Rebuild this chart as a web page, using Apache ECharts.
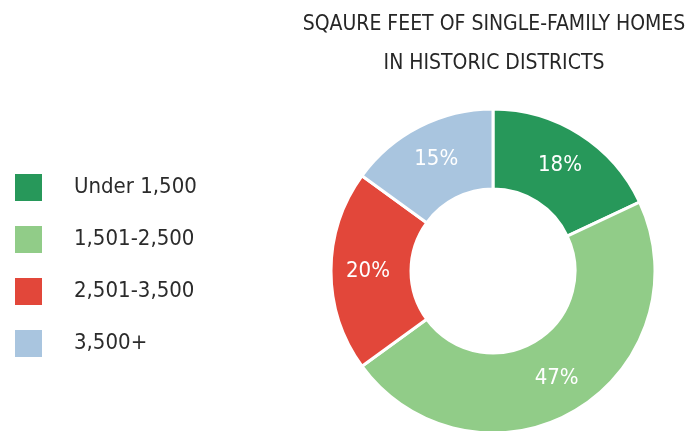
<!DOCTYPE html>
<html><head><meta charset="utf-8">
<script src="https://cdn.jsdelivr.net/npm/echarts@6/dist/echarts.min.js"></script>
<style>html,body{margin:0;padding:0;background:#fff}#c{width:688px;height:431px}</style>
</head><body><div id="c"></div>
<script>
const categories = ['Under 1,500', '1,501-2,500', '2,501-3,500', '3,500+'];
const values = [18, 47, 20, 15];
const colors = ['#27985a', '#91cc88', '#e2473a', '#a9c5df'];
const titleText = 'SQAURE FEET OF SINGLE-FAMILY HOMES\nIN HISTORIC DISTRICTS';
const FONT = '"DejaVu Sans Condensed", "Liberation Sans Narrow", sans-serif';

const chart = echarts.init(document.getElementById('c'));
chart.setOption({
  animation: false,
  backgroundColor: '#ffffff',
  title: {
    text: titleText,
    left: 494, top: 5, padding: 0,
    textAlign: 'center',
    textStyle: { fontFamily: FONT, fontSize: 21, fontWeight: 'normal', color: '#262626', lineHeight: 39 }
  },
  legend: {
    orient: 'vertical', left: 13, top: 172, padding: 0,
    itemWidth: 29, itemHeight: 29, itemGap: 21,
    icon: 'rect',
    data: categories,
    textStyle: { fontFamily: FONT, fontSize: 22, color: '#2b2b2b', lineHeight: 29, padding: [0, 0, 0, 26] }
  },
  series: [{
    type: 'pie',
    center: [493, 271],
    radius: [82, 162],
    startAngle: 90,
    clockwise: true,
    avoidLabelOverlap: false,
    itemStyle: { borderColor: '#ffffff', borderWidth: 3 },
    label: {
      show: true, position: 'inside',
      formatter: '{c}%',
      fontFamily: FONT, fontSize: 22, color: '#ffffff', textBorderWidth: 0
    },
    labelLine: { show: false },
    data: categories.map((n, i) => ({ name: n, value: values[i], itemStyle: { color: colors[i] } }))
  }]
});
</script></body></html>
